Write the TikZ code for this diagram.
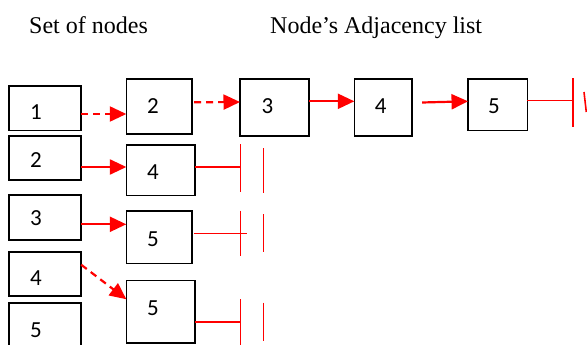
\documentclass[tikz,border=0pt]{standalone}
\usepackage{fontspec}
\setmainfont{Liberation Serif}
\newfontfamily\digitfont{Carlito}
\usetikzlibrary{arrows.meta}
\begin{document}
\begin{tikzpicture}[x=1pt,y=-1pt,
  box/.style={draw=black,line width=1.6pt,inner sep=0pt,outer sep=0pt},
  lbl/.style={inner sep=0pt,font=\digitfont\fontsize{23}{23}\selectfont},
  ttl/.style={inner sep=0pt,anchor=base west,font=\fontsize{24}{24}\selectfont},
  link/.style={draw=red,line width=2.2pt,-{Triangle[length=16.5pt,width=15pt]}},
  dlink/.style={link,dash pattern=on 7pt off 5pt},
  term/.style={draw=red,line width=1.6pt}]
\clip (0,0) rectangle (587,345);
% titles
\node[ttl] (t1) at (29,34) {Set of nodes};
\node[ttl] (t2) at (270,34) {Node’s Adjacency list};
% set of nodes
\node[box,minimum width=72pt,minimum height=44.7pt] (n1) at (45.2,108.3) {};
\node[box,minimum width=72pt,minimum height=44.3pt] (n2) at (45.2,157.9) {};
\node[box,minimum width=72pt,minimum height=45pt] (n3) at (45.2,217.5) {};
\node[box,minimum width=72pt,minimum height=44.3pt] (n4) at (45.2,273.9) {};
\node[box,minimum width=72pt,minimum height=50pt] (n5) at (45.2,327.7) {};
\node[lbl] (l1) at (36,112.5) {1};
\node[lbl] (l2) at (36,160) {2};
\node[lbl] (l3) at (36,218) {3};
\node[lbl] (l4) at (36,278) {4};
\node[lbl] (l5) at (36,330) {5};
% adjacency boxes
\node[box,minimum width=65.4pt,minimum height=55pt] (a12) at (159,106.5) {};
\node[box,minimum width=68.7pt,minimum height=50.7pt] (a24) at (160.7,170.3) {};
\node[box,minimum width=65.4pt,minimum height=52.6pt] (a35) at (159,237) {};
\node[box,minimum width=68.7pt,minimum height=62.3pt] (a45) at (160.7,311.8) {};
\node[box,minimum width=69pt,minimum height=57pt] (a13) at (274.5,107.5) {};
\node[box,minimum width=57.7pt,minimum height=57pt] (a14) at (383.2,107.5) {};
\node[box,minimum width=59.3pt,minimum height=51.3pt] (a15) at (497.7,104.7) {};
\node[lbl] (m12) at (153,106) {2};
\node[lbl] (m24) at (153,172) {4};
\node[lbl] (m35) at (153,239) {5};
\node[lbl] (m45) at (153,308) {5};
\node[lbl] (m13) at (267.5,106.5) {3};
\node[lbl] (m14) at (380.7,106.5) {4};
\node[lbl] (m15) at (494,106.5) {5};
% links
\draw[dlink] (n1.east |- 0,114) -- (a12.west |- 0,114);
\draw[dlink] ([xshift=2.5pt]a12.east |- 0,102.3) -- (a13.west |- 0,102);
\draw[link] (a13.east |- 0,101.3) -- (a14.west |- 0,101.3);
\draw[link] ([xshift=10pt]a14.east |- 0,102.5) -- (a15.west |- 0,101.3);
\draw[link] (n2.east |- 0,167) -- (a24.west |- 0,167);
\draw[link] (n3.east |- 0,224.3) -- (a35.west |- 0,224.3);
\draw[dlink] ([yshift=-13pt]n4.north east) -- ([yshift=-18.6pt]a45.north west);
% terminators
\coordinate (e1) at (572.7,100.7);
\draw[term] (a15.east |- e1) -- (e1);
\draw[term] (572.7,78.3) -- (572.7,126.7);
\draw[term] (584,92) -- (586.3,112);
\coordinate (e2) at (240.5,166.7);
\draw[term] (a24.east |- e2) -- (e2);
\draw[term] (240.5,144.3) -- (240.5,191.7);
\draw[term] (263.3,148.3) -- (263.3,193.3);
\coordinate (e3) at (246.7,233.3);
\draw[term] ([xshift=2.5pt]a35.east |- e3) -- (e3);
\draw[term] (240.5,210.7) -- (240.5,256);
\draw[term] (263.3,214) -- (263.3,251.7);
\coordinate (e4) at (240.5,321.7);
\draw[term] (a45.east |- e4) -- (e4);
\draw[term] (240.5,299) -- (240.5,346);
\draw[term] (263.3,302.7) -- (263.3,340.7);
\end{tikzpicture}
\end{document}
